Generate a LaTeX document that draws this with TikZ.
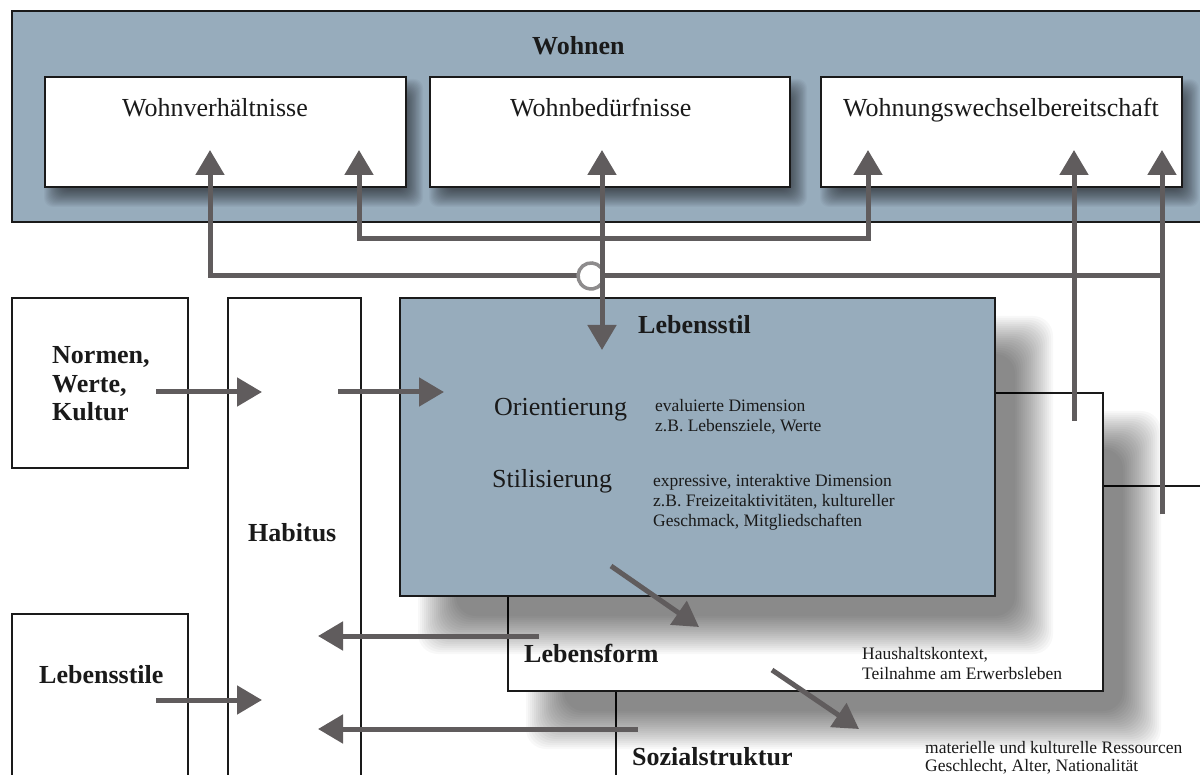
\documentclass[tikz,border=0pt]{standalone}
\usepackage{fontspec}
\setmainfont{Liberation Serif}
\usetikzlibrary{arrows.meta}
\definecolor{panelblue}{RGB}{151,172,188}
\definecolor{arrowgray}{RGB}{96,92,93}
\definecolor{hopgray}{RGB}{142,140,141}
\definecolor{ink}{RGB}{26,26,26}
% stacked lines, baseline at the first line
\newcommand\textlines[1]{\begin{tabular}[t]{@{}l@{}}#1\end{tabular}}
% soft drop shadow of the box (#1,#2)-(#3,#4), shifted by (#5,#6),
% blurred over #7 on each side; #8 is the opacity of each of 20 layers
\newcommand\softshadow[8]{%
  \foreach \k in {0,...,19}{%
    \pgfmathsetmacro\grow{#7-\k*#7/10}%
    \fill[black, fill opacity=#8, rounded corners=#7pt]
      ({#1+#5-\grow},{#2+#6-\grow}) rectangle ({#3+#5+\grow},{#4+#6+\grow});
  }}
\begin{document}
\begin{tikzpicture}[x=1pt,y=-1pt,
  frame/.style={draw=ink, line width=2.5pt, inner sep=0pt, outer sep=0pt, anchor=north west},
  panel/.style={frame, fill=panelblue},
  whitebox/.style={frame, fill=white},
  title/.style={font=\fontsize{26}{28.5}\selectfont\bfseries, text=ink, inner sep=0pt, anchor=base west},
  label/.style={font=\fontsize{26}{28}\selectfont, text=ink, inner sep=0pt, anchor=base west},
  note/.style={font=\fontsize{17.5}{20}\selectfont, text=ink, inner sep=0pt, anchor=base west},
  flow/.style={draw=arrowgray, line width=5pt, line join=miter, -{Triangle[length=25pt,width=28pt]}},
  twoway/.style={flow, {Triangle[length=25pt,width=28pt]}-{Triangle[length=25pt,width=28pt]}},
  plain/.style={draw=arrowgray, line width=5pt, line join=miter},
]
\clip (0,0) rectangle (1200,775);
\fill[white] (0,0) rectangle (1200,775);

% ---- Wohnen panel and its three fields
\node[panel, minimum width=1200pt, minimum height=211pt] (wohnen) at (12,11) {};
\node[title] (wohnentitle) at (532,55) {Wohnen};
\softshadow{45}{77}{406}{187}{8}{11}{9}{0.03}
\softshadow{430}{77}{790}{187}{8}{11}{9}{0.03}
\softshadow{821}{77}{1182}{187}{8}{11}{9}{0.03}
\node[whitebox, minimum width=361pt, minimum height=110pt] (wv) at (45,77) {};
\node[whitebox, minimum width=360pt, minimum height=110pt] (wb) at (430,77) {};
\node[whitebox, minimum width=361pt, minimum height=110pt] (ww) at (821,77) {};
\node[label] (wvtext) at (122,117) {Wohnverhältnisse};
\node[label] (wbtext) at (510,117) {Wohnbedürfnisse};
\node[label] (wwtext) at (843,117) {Wohnungswechselbereitschaft};

% ---- left column
\node[whitebox, minimum width=176pt, minimum height=170pt] (normen) at (12,298) {};
\node[title] (normentext) at (52,364) {\textlines{Normen,\\Werte,\\Kultur}};
\node[whitebox, minimum width=133pt, minimum height=520pt] (habitus) at (228,298) {};
\node[title] (habitustext) at (248,541) {Habitus};
\node[whitebox, minimum width=176pt, minimum height=200pt] (stile) at (12,614) {};
\node[title] (stiletext) at (39,683) {Lebensstile};

% ---- stacked layers: Sozialstruktur, Lebensform, Lebensstil
\node[whitebox, minimum width=640pt, minimum height=320pt] (sozial) at (616,486) {};
\softshadow{508}{393}{1103}{691}{38}{38}{20}{0.028}
\node[whitebox, minimum width=595pt, minimum height=298pt] (form) at (508,393) {};
\softshadow{400}{298}{995}{596}{38}{38}{20}{0.028}
\node[panel, minimum width=595pt, minimum height=298pt] (stil) at (400,298) {};

\node[title] (stiltext) at (638,334) {Lebensstil};
\node[label] (orient) at (494,416) {Orientierung};
\node[label] (stilis) at (492,487) {Stilisierung};
\node[note] (orientnote) at (655,412) {\textlines{evaluierte Dimension\\z.B. Lebensziele, Werte}};
\node[note] (stilisnote) at (653,486) {\textlines{expressive, interaktive Dimension\\z.B. Freizeitaktivitäten, kultureller\\Geschmack, Mitgliedschaften}};
\node[title] (formtext) at (524,662) {Lebensform};
\node[note] (formnote) at (862,659) {\textlines{Haushaltskontext,\\Teilnahme am Erwerbsleben}};
\node[title] (sozialtext) at (632,765) {Sozialstruktur};
\node[note, font=\fontsize{17.5}{18}\selectfont] (sozialnote) at (925,753.5) {\textlines{materielle und kulturelle Ressourcen\\Geschlecht, Alter, Nationalität}};

% ---- connector end points
\coordinate (t1) at (210,150);
\coordinate (t2) at (359,150);
\coordinate (t3) at (602,150);
\coordinate (t4) at (868,150);
\coordinate (t5) at (1074,150);
\coordinate (t6) at (1162,150);
\coordinate (stilin) at (602,350);
\coordinate (formout) at (1074,421);
\coordinate (sozialout) at (1162,514);
\coordinate (split) at (1162,276);
\coordinate (hopR) at (602,276);
\coordinate (hopL) at (578,276);

% ---- connectors into the Wohnen fields
\draw[twoway] (t2) -- ++(0,89) -| (t4);
\draw[flow] (sozialout) -- (t6);
\draw[plain] (split) -- (hopR);
\draw[flow] (hopL) -| (t1);
\draw[draw=hopgray, line width=3.5pt] (601,267.6) arc[start angle=40, end angle=320, radius=13pt];
\draw[twoway] (stilin) -- (t3);
\draw[flow] (formout) -- (t5);

% ---- connectors in the lower part
\coordinate (n1) at (156,392);  \coordinate (h1) at (262,392);
\coordinate (h2) at (338,392);  \coordinate (o1) at (444,392);
\coordinate (s1) at (156,700);  \coordinate (h3) at (262,700);
\coordinate (f1) at (539,636);  \coordinate (h4) at (318,636);
\coordinate (z1) at (638,729);  \coordinate (h5) at (318,729);
\coordinate (d1) at (611,566);  \coordinate (d2) at (699,627);
\coordinate (d3) at (772,670);  \coordinate (d4) at (859,729);
\draw[flow] (n1) -- (h1);
\draw[flow] (h2) -- (o1);
\draw[flow] (s1) -- (h3);
\draw[flow] (f1) -- (h4);
\draw[flow] (z1) -- (h5);
\draw[flow] (d1) -- (d2);
\draw[flow] (d3) -- (d4);
\end{tikzpicture}
\end{document}
